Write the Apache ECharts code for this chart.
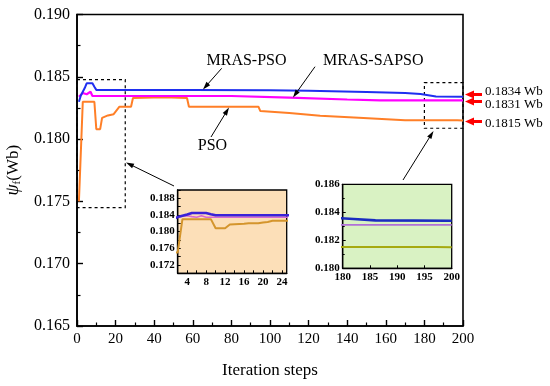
<!DOCTYPE html>
<html><head><meta charset="utf-8">
<script src="https://cdn.jsdelivr.net/npm/echarts@6/dist/echarts.min.js"></script>
<style>html,body{margin:0;padding:0;background:#fff}#c{width:550px;height:386px}</style>
</head><body><div id="c"></div>
<script>
// ---- data: [iteration step, flux (Wb)] ----
const mrasPso = [[1,0.1830],[2,0.1835],[3,0.1838],[4,0.1841],[5,0.18448],[8,0.18448],[9,0.1842],[10,0.18395],[60,0.18395],[100,0.18392],[120,0.18388],[150,0.18378],[170,0.18370],[178,0.18362],[182,0.18352],[186,0.18342],[200,0.18340]];
const mrasSapso = [[1,0.18340],[2,0.18345],[3,0.18370],[4,0.18380],[5,0.18360],[6,0.18345],[7,0.18380],[8,0.18346],[80,0.18346],[110,0.18333],[140,0.18318],[157,0.18310],[200,0.18310]];
const pso = [[1,0.1750],[2,0.1750],[3,0.1830],[9,0.1830],[10,0.1808],[12,0.1808],[13,0.1817],[14,0.1818],[16,0.1819],[17,0.1820],[19,0.1820],[20,0.1822],[21,0.1823],[22,0.1826],[28,0.1826],[29,0.18330],[45,0.18335],[57,0.18330],[58,0.18260],[94,0.18260],[95,0.18225],[110,0.18210],[126,0.18187],[146,0.18172],[147,0.18160],[170,0.18152],[197,0.18152],[200,0.18150]];
const endValues = ['0.1834 Wb','0.1831 Wb','0.1815 Wb'];
const inset1XLabels = [4,8,12,16,20,24];
const inset1YLabels = [0.172,0.176,0.180,0.184,0.188];
const inset2XLabels = [180,185,190,195,200];
const inset2YLabels = [0.180,0.182,0.184,0.186];

const serif = 'Liberation Serif, Times New Roman, serif';
const chart = echarts.init(document.getElementById('c'));

function arrow(x1,y1,x2,y2,color,lw,hl,hw){
  const a=Math.atan2(y2-y1,x2-x1);
  const bx=x2-hl*Math.cos(a), by=y2-hl*Math.sin(a);
  const px=-Math.sin(a)*hw/2, py=Math.cos(a)*hw/2;
  return [
    {type:'line',silent:true,z:50,shape:{x1:x1,y1:y1,x2:bx+ (x2-bx)*0.3,y2:by+(y2-by)*0.3},style:{stroke:color,lineWidth:lw}},
    {type:'polygon',silent:true,z:50,shape:{points:[[x2,y2],[bx+px,by+py],[bx-px,by-py]]},style:{fill:color}}
  ];
}
function near(v,list){return list.some(t=>Math.abs(v-t)<1e-6);}

const mainAxisCommon = {
  axisLine:{show:true,lineStyle:{color:'#000',width:1.6}},
  axisTick:{show:true,inside:true,length:6,lineStyle:{color:'#000',width:1.4}},
  minorTick:{show:true,splitNumber:2,length:3.5,lineStyle:{color:'#000',width:1.2}},
  splitLine:{show:false},
  axisLabel:{color:'#000',fontFamily:serif,fontSize:15}
};
const insetAxisCommon = {
  axisLine:{show:true,onZero:false,lineStyle:{color:'#000',width:1.3}},
  axisTick:{show:true,inside:true,length:3,lineStyle:{color:'#000',width:1}},
  splitLine:{show:false},
  axisLabel:{color:'#000',fontFamily:serif,fontSize:11,fontWeight:'bold'}
};

function mk(data,color,width,xi,z){
  return {type:'line',data:data,xAxisIndex:xi,yAxisIndex:xi,showSymbol:false,symbol:'none',
    lineStyle:{color:color,width:width},itemStyle:{color:color},z:z,clip:true,animation:false};
}

let graphics = [];
graphics = graphics.concat(
  arrow(221.7,68.3,203,89.5,'#000',1,8,5),
  arrow(315,66.7,293,97.5,'#000',1,8,5),
  arrow(211,137,229,107.5,'#000',1,8,5),
  arrow(174,186,126,162.5,'#000',1,8,5),
  arrow(403,180,433.5,131,'#000',1,8,5),
  arrow(482,94.5,465,94.5,'#f00',3,9,8),
  arrow(482,101.5,465,101.5,'#f00',3,9,8),
  arrow(482,121.5,465,121.5,'#f00',3,9,8)
);
graphics.push(
  {type:'text',silent:true,z:60,style:{text:'MRAS-PSO',x:246.5,y:61,align:'center',verticalAlign:'middle',font:'16px '+serif,fill:'#000'}},
  {type:'text',silent:true,z:60,style:{text:'MRAS-SAPSO',x:323,y:61,align:'left',verticalAlign:'middle',font:'16px '+serif,fill:'#000'}},
  {type:'text',silent:true,z:60,style:{text:'PSO',x:212.5,y:146,align:'center',verticalAlign:'middle',font:'16px '+serif,fill:'#000'}},
  {type:'text',silent:true,z:60,style:{text:endValues[0],x:485,y:91.5,align:'left',verticalAlign:'middle',font:'13px '+serif,fill:'#000'}},
  {type:'text',silent:true,z:60,style:{text:endValues[1],x:485,y:105,align:'left',verticalAlign:'middle',font:'13px '+serif,fill:'#000'}},
  {type:'text',silent:true,z:60,style:{text:endValues[2],x:485,y:123.5,align:'left',verticalAlign:'middle',font:'13px '+serif,fill:'#000'}}
);

const boxStyle = {color:'rgba(0,0,0,0)',borderColor:'#000',borderWidth:1.2,borderType:[3,3]};

chart.setOption({
  animation:false,
  backgroundColor:'#fff',
  grid:[
    {left:77,top:14.5,width:386,height:311.5,show:true,borderColor:'#000',borderWidth:1.6,backgroundColor:'rgba(0,0,0,0)',containLabel:false,outerBoundsMode:'none'},
    {left:177.7,top:190,width:109,height:83.3,show:true,borderColor:'#000',borderWidth:1.3,backgroundColor:'#fcdfb8',z:10,containLabel:false,outerBoundsMode:'none'},
    {left:342.7,top:184.3,width:109,height:84,show:true,borderColor:'#000',borderWidth:1.3,backgroundColor:'#d9f2c3',z:10,containLabel:false,outerBoundsMode:'none'}
  ],
  xAxis:[
    Object.assign({type:'value',gridIndex:0,min:0,max:200,interval:20,
      name:'Iteration steps',nameLocation:'middle',nameGap:36,
      nameTextStyle:{color:'#000',fontFamily:serif,fontSize:17}},mainAxisCommon,
      {axisLabel:{color:'#000',fontFamily:serif,fontSize:15,margin:6}}),
    Object.assign({type:'value',gridIndex:1,min:2,max:25,interval:2,z:12},insetAxisCommon,
      {axisLabel:{color:'#000',fontFamily:serif,fontSize:11,fontWeight:'bold',margin:3,showMinLabel:true,
        formatter:v=>near(v,inset1XLabels)?String(Math.round(v)):''},
       axisTick:{show:true,inside:true,length:3,lineStyle:{color:'#000',width:1},
        interval:(i,v)=>near(Number(v),inset1XLabels)}}),
    Object.assign({type:'value',gridIndex:2,min:180,max:200,interval:5,z:12},insetAxisCommon,
      {axisLabel:{color:'#000',fontFamily:serif,fontSize:11,fontWeight:'bold',margin:3}})
  ],
  yAxis:[
    Object.assign({type:'value',gridIndex:0,min:0.165,max:0.190,interval:0.005,
      name:'{a|ψ}{b|f}{c|(Wb)}',nameLocation:'middle',nameGap:52,
      nameTextStyle:{color:'#000',fontFamily:serif,fontSize:16,
        rich:{a:{fontFamily:serif,fontSize:18,fontStyle:'italic',color:'#000'},
              b:{fontFamily:serif,fontSize:11,verticalAlign:'bottom',color:'#000',padding:[8,0,0,0]},
              c:{fontFamily:serif,fontSize:17,color:'#000'}}}},mainAxisCommon,
      {axisLabel:{color:'#000',fontFamily:serif,fontSize:16,margin:7,formatter:v=>v.toFixed(3)}}),
    Object.assign({type:'value',gridIndex:1,min:0.170,max:0.190,interval:0.002,z:12},insetAxisCommon,
      {axisLabel:{color:'#000',fontFamily:serif,fontSize:11,fontWeight:'bold',margin:3,
        formatter:v=>near(v,inset1YLabels)?v.toFixed(3):''},
       axisTick:{show:true,inside:true,length:3,lineStyle:{color:'#000',width:1},
        interval:(i,v)=>near(Number(v),inset1YLabels)}}),
    Object.assign({type:'value',gridIndex:2,min:0.180,max:0.186,interval:0.002,z:12},insetAxisCommon,
      {axisLabel:{color:'#000',fontFamily:serif,fontSize:11,fontWeight:'bold',margin:3,formatter:v=>v.toFixed(3)},
       minorTick:{show:true,splitNumber:2,length:2,lineStyle:{color:'#000'}}})
  ],
  series:[
    Object.assign(mk(pso,'#ff7f27',2,0,3),{
      markArea:{silent:true,itemStyle:boxStyle,data:[
        [{coord:[0,0.18478]},{coord:[25,0.1745]}],
        [{coord:[180,0.18453]},{coord:[200,0.18087]}]
      ]}}),
    mk(mrasSapso,'#ff00ff',2.2,0,4),
    mk(mrasPso,'#1f2ff0',2,0,5),
    Object.assign(mk(pso,'#d4952c',2,1,13),{
      markArea:{silent:true,itemStyle:{color:'rgba(255,170,190,0.35)'},data:[[{coord:[2,0.1834]},{coord:[25,0.1816]}]]}}),
    mk(mrasSapso,'#d86ad0',1.6,1,14),
    mk(mrasPso,'#3a22d8',2.6,1,15),
    Object.assign(mk(pso,'#a6aa10',2,2,13),{
      markArea:{silent:true,itemStyle:{color:'rgba(255,180,190,0.35)'},data:[[{coord:[180,0.1830]},{coord:[200,0.1826]}]]}}),
    mk(mrasSapso,'#b070d8',1.6,2,14),
    mk(mrasPso,'#1a2cc0',2.6,2,15)
  ],
  graphic:graphics
});
</script></body></html>
